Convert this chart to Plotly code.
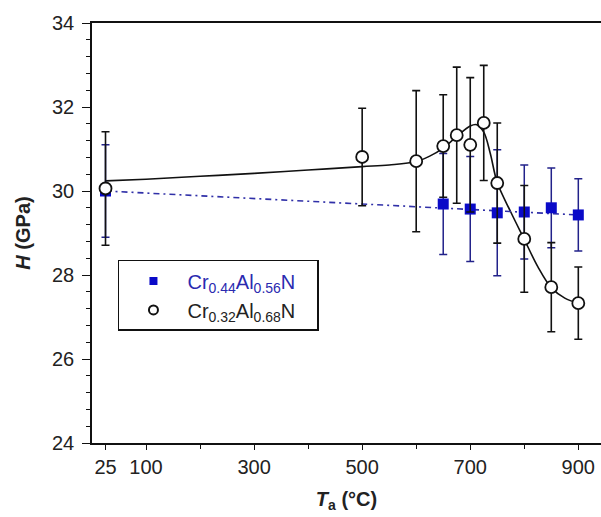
import plotly.graph_objects as go

# Cr0.44Al0.56N (blue squares)
T_blue = [25, 650, 700, 750, 800, 850, 900]
H_blue = [30.0, 29.69, 29.57, 29.48, 29.5, 29.6, 29.43]
E_blue = [1.1, 1.2, 1.25, 1.5, 1.12, 0.95, 0.86]

# Cr0.32Al0.68N (open circles)
T_black = [25, 500, 600, 650, 675, 700, 725, 750, 800, 850, 900]
H_black = [30.06, 30.81, 30.71, 31.07, 31.33, 31.1, 31.62, 30.19, 28.86, 27.71, 27.33]
E_black = [1.35, 1.16, 1.68, 1.22, 1.62, 1.6, 1.37, 1.43, 1.27, 1.06, 0.86]

# fitted curves
fit_T_black = [25, 100, 200, 300, 400, 500, 550, 600, 625, 650, 675, 700, 712, 725, 737, 750, 775, 800, 825, 850, 875, 900]
fit_H_black = [30.24, 30.28, 30.35, 30.42, 30.5, 30.58, 30.62, 30.7, 30.83, 31.02, 31.3, 31.55, 31.58, 31.4, 30.9, 30.2, 29.5, 28.85, 28.2, 27.7, 27.45, 27.33]
fit_T_blue = [25, 900]
fit_H_blue = [30.0, 29.43]

x_ticks = [25, 100, 300, 500, 700, 900]
x_minor = [200, 400, 600, 800]
y_ticks = [24, 26, 28, 30, 32, 34]

FONT = "Liberation Sans, Arial, sans-serif"
BLUE = "#0a0ac8"
BLUE_BAR = "#22228a"

fig = go.Figure()

# black fit curve
fig.add_trace(go.Scatter(
    x=fit_T_black, y=fit_H_black, mode="lines", line_shape="spline",
    line=dict(color="#111111", width=1.6), showlegend=False))

# blue fit line
fig.add_trace(go.Scatter(
    x=fit_T_blue, y=fit_H_blue, mode="lines",
    line=dict(color="#3030a8", width=1.6, dash="6px,4px,2px,4px"), showlegend=False))

# blue squares with error bars
fig.add_trace(go.Scatter(
    x=T_blue, y=H_blue, mode="markers",
    marker=dict(symbol="square", size=11, color=BLUE, line=dict(width=0)),
    error_y=dict(type="data", array=E_blue, color=BLUE_BAR, thickness=1.5, width=4),
    showlegend=False))

# black error bars
fig.add_trace(go.Scatter(
    x=T_black, y=H_black, mode="markers",
    marker=dict(size=1, color="rgba(0,0,0,0)"),
    error_y=dict(type="data", array=E_black, color="#111111", thickness=1.6, width=4),
    showlegend=False, hoverinfo="skip"))

# open circles
fig.add_trace(go.Scatter(
    x=T_black, y=H_black, mode="markers",
    marker=dict(symbol="circle", size=12, color="white", line=dict(color="#111111", width=1.8)),
    showlegend=False))

# legend entries (smaller symbols, as in the original legend)
fig.add_trace(go.Scatter(
    x=[None], y=[None], mode="markers",
    marker=dict(symbol="square", size=8, color=BLUE),
    name='<span style="color:#2a2ab0">Cr<sub>0.44</sub>Al<sub>0.56</sub>N</span>&nbsp;&nbsp;&nbsp;'))
fig.add_trace(go.Scatter(
    x=[None], y=[None], mode="markers",
    marker=dict(symbol="circle", size=9, color="white", line=dict(color="#111111", width=2)),
    name='<span style="color:#222222">Cr<sub>0.32</sub>Al<sub>0.68</sub>N</span>&nbsp;&nbsp;&nbsp;'))

fig.update_layout(
    width=601, height=517,
    margin=dict(l=92, r=0, t=23, b=74),
    plot_bgcolor="white", paper_bgcolor="white",
    font=dict(family=FONT, size=20, color="#222222"),
    legend=dict(x=0.051, y=0.436, xanchor="left", yanchor="top",
                bordercolor="#111111", borderwidth=1.5, bgcolor="white",
                font=dict(size=20), itemwidth=58,
                tracegroupgap=0),
    xaxis=dict(range=[0, 942], tickmode="array", tickvals=x_ticks,
               ticktext=[str(v) for v in x_ticks],
               ticks="outside", ticklen=5, tickwidth=1.2, tickcolor="#111111",
               minor=dict(tickmode="array", tickvals=x_minor, ticks="outside", ticklen=4, tickcolor="#111111"),
               showline=True, linecolor="#111111", linewidth=1.6, mirror=True,
               showgrid=False, zeroline=False,
               title=dict(text="<b><i>T</i><sub>a</sub> (°C)</b>", font=dict(size=20), standoff=15)),
    yaxis=dict(range=[24, 34], tickmode="array", tickvals=y_ticks,
               ticks="outside", ticklen=8, tickwidth=1.2, tickcolor="#111111",
               ticklabelstandoff=4,
               minor=dict(dtick=0.4, ticks="outside", ticklen=4, tickcolor="#111111"),
               showline=True, linecolor="#111111", linewidth=1.6,
               showgrid=False, zeroline=False,
               title=dict(text="<b><i>H</i> (GPa)</b>", font=dict(size=20), standoff=16)),
)

fig.write_html("out.html")
